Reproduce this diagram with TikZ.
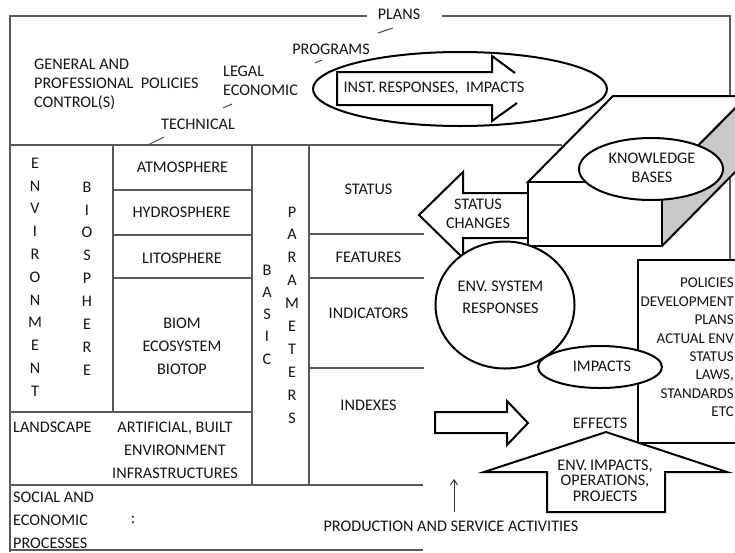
\documentclass[tikz,border=0pt]{standalone}
\usepackage{fontspec}
\setmainfont{Carlito}
\usetikzlibrary{shapes.geometric,arrows.meta}
\begin{document}
\begin{tikzpicture}[x=1pt,y=-1pt,
  frame/.style={draw=black!65, line width=1.1pt},
  tick/.style={draw=black!70, line width=1pt},
  shp/.style={draw=black, line width=2pt, line join=miter},
  txt/.style={font=\fontsize{16.2}{19}\selectfont, text=black!92, inner sep=0pt},
  tall/.style={font=\fontsize{16.2}{22.8}\selectfont, text=black!92, inner sep=0pt, align=center},
  mid/.style={font=\fontsize{16.2}{23}\selectfont, text=black!92, inner sep=0pt, align=center},
]
\useasboundingbox (0,0) rectangle (735,552);
\clip (0,0) rectangle (735,552);

% ---- frame and table lines
\draw[frame] (367,16) -- (10,16) -- (10,552);
\draw[frame] (442,16) -- (730,16) -- (730,260);
\draw[frame] (10,145) -- (562,145);
\draw[frame] (113,145) -- (113,412);
\draw[frame] (252,145) -- (252,485);
\draw[frame] (309,145) -- (309,485);
\draw[frame] (113,190) -- (252,190);
\draw[frame] (113,235) -- (252,235);
\draw[frame] (113,278) -- (252,278);
\draw[frame] (10,412) -- (252,412);
\draw[frame] (309,234) -- (424,234);
\draw[frame] (309,278) -- (424,278);
\draw[frame] (309,368) -- (424,368);
\draw[frame] (10,485) -- (423,485);
\draw[frame] (10,550) -- (423,550);

% ---- small ticks
\draw[tick] (223,108) -- (232,104);
\draw[tick] (148,145) -- (164,137);
\draw[tick] (315,63) -- (322,60);
\draw[tick] (378,33) -- (393,28);

% ---- top texts
\node[txt, anchor=west, align=left] (general) at (34,84.5)
  {GENERAL AND\\PROFESSIONAL\ \ POLICIES\\CONTROL(S)};
\node[txt, anchor=west, align=left] (legal) at (223,80.5) {LEGAL\\ECONOMIC};
\node[txt] (technical) at (198,124) {TECHNICAL};
\node[txt] (programs) at (331,49) {PROGRAMS};
\node[txt] (plans) at (399,14) {PLANS};

% ---- programs ellipse and open arrow
\node[shp, ellipse, minimum width=294pt, minimum height=74pt, inner sep=0pt] (progell) at (460,89) {};
\draw[shp] (515,73) -- (492,56) -- (492,72) -- (337,72) -- (337,105) -- (492,105) -- (492,121) -- (517,103);
\node[txt] (inst) at (434,88) {INST.\,RESPONSES,\ \ IMPACTS};

% ---- status changes arrow
\draw[shp, fill=white] (528,193) -- (463,193) -- (463,172) -- (419,215) -- (463,258) -- (463,238) -- (528,238);
\node[txt, align=center] (statch) at (478,213.5) {STATUS\\CHANGES};

% ---- cube
\fill[black!21] (662,182) -- (747,96) -- (747,160) -- (662,246) -- cycle;
\draw[shp] (662,182) -- (747,96) (747,160) -- (662,246);
\draw[shp, fill=white] (528,182) -- (613,96) -- (747,96) -- (662,182) -- cycle;
\draw[shp, fill=white] (528,182) rectangle (662,246);
\node[shp, fill=white, ellipse, minimum width=144pt, minimum height=62pt, inner sep=0pt] (kbell) at (651,169) {};
\node[txt, align=center] (kb) at (652,167.5) {KNOWLEDGE\\BASES};

% ---- env system circle
\node[shp, fill=white, ellipse, minimum width=139pt, minimum height=127pt, inner sep=0pt] (envc) at (505,305) {};
\node[txt, font=\fontsize{16.2}{22}\selectfont, align=center] (envt) at (500.5,297) {ENV.\ SYSTEM\\RESPONSES};

% ---- policies box
\draw[shp, fill=white] (638,260) rectangle (750,443);
\node[txt, font=\fontsize{15}{18.4}\selectfont, anchor=east, align=right] (policies) at (734,347.5)
  {POLICIES\\DEVELOPMENT\\PLANS\\ACTUAL ENV\\STATUS\\LAWS,\\STANDARDS\\ETC};

% ---- impacts ellipse
\node[shp, fill=white, ellipse, minimum width=124pt, minimum height=42pt, inner sep=0pt] (impell) at (600,367) {};
\node[txt] (impt) at (602,366) {IMPACTS};

% ---- indexes arrow
\draw[shp, fill=white] (435,412) -- (507,412) -- (507,401) -- (528,423) -- (507,445) -- (507,433) -- (435,433) -- cycle;
\node[txt] (effects) at (600,423) {EFFECTS};

% ---- big up arrow
\draw[shp, fill=white] (547,512) -- (547,472) -- (484,472) -- (606,432) -- (727,472) -- (665,472) -- (665,512) -- cycle;
\node[txt, font=\fontsize{16.2}{15.6}\selectfont, align=center] (envimp) at (605,480.5)
  {ENV.\,IMPACTS,\\OPERATIONS,\\PROJECTS};

% ---- production arrow
\coordinate (prodbot) at (454,512);
\coordinate (prodtop) at (454,479);
\draw[-{Straight Barb[length=5pt,width=7pt]}, black!80, line width=1pt] (prodbot) -- (prodtop);
\node[txt] (prod) at (451,526) {PRODUCTION AND SERVICE ACTIVITIES};

% ---- table texts
\node[tall] (envir) at (35,277) {E\\N\\V\\I\\R\\O\\N\\M\\E\\N\\T};
\node[tall, font=\fontsize{16.2}{22.9}\selectfont] (bios) at (87,278.5) {B\\I\\O\\S\\P\\H\\E\\R\\E};
\node[tall, font=\fontsize{16.2}{22.25}\selectfont] (basic) at (267,314.5) {B\\A\\S\\I\\C};
\node[tall, font=\fontsize{16.2}{22.9}\selectfont] (param) at (292,315) {P\\A\\R\\A\\M\\E\\T\\E\\R\\S};

\node[txt] (atmo) at (182.5,167) {ATMOSPHERE};
\node[txt] (hydro) at (181.5,212) {HYDROSPHERE};
\node[txt] (lito) at (182,258) {LITOSPHERE};
\node[mid] (biom) at (182,346) {BIOM\\ECOSYSTEM\\BIOTOP};

\node[txt] (status) at (368.5,189) {STATUS};
\node[txt] (features) at (368.5,257) {FEATURES};
\node[txt] (indic) at (368.5,313) {INDICATORS};
\node[txt] (indexes) at (368.5,405) {INDEXES};

\node[txt, anchor=west] (landscape) at (13,427) {LANDSCAPE};
\node[mid] (artif) at (175,450) {ARTIFICIAL, BUILT\\ENVIRONMENT\\INFRASTRUCTURES};
\node[mid, align=left, anchor=west] (social) at (13,520) {SOCIAL AND\\ECONOMIC\\PROCESSES};
\node[txt] (colon) at (133,520) {:};
\end{tikzpicture}
\end{document}
